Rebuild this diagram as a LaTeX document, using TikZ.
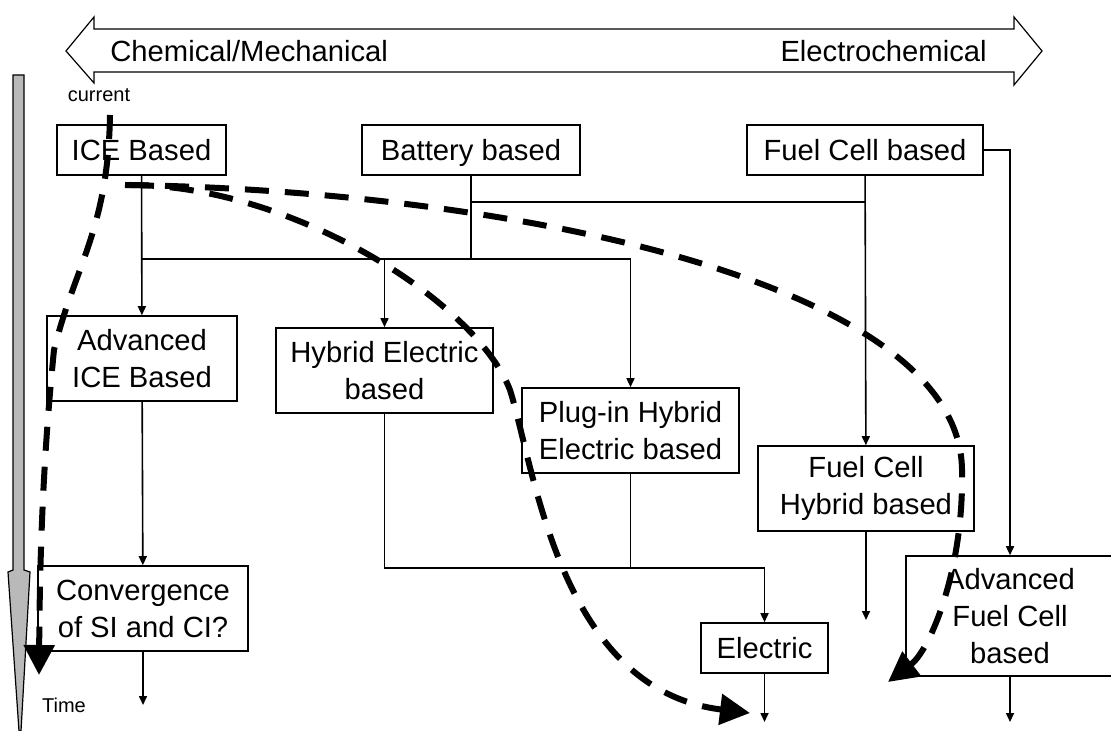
\documentclass[tikz,border=0pt]{standalone}
\usepackage{fontspec}
\setmainfont{Liberation Sans}
\usetikzlibrary{arrows.meta}

\begin{document}
\begin{tikzpicture}[x=0.5pt,y=-0.5pt,
  font=\fontsize{14.6}{18.5}\selectfont,
  box/.style={draw,line width=0.8pt,inner sep=0pt,align=center},
  oneline/.style={box,text height=10.5pt,text depth=0pt,minimum height=25pt},
  tag/.style={inner sep=0pt,font=\fontsize{10}{12}\selectfont},
  link/.style={line width=0.8pt},
  feed/.style={link,-{Triangle[length=4.5pt,width=4pt]}},
  trend/.style={line width=3pt,dash pattern=on 12pt off 8pt,-{Triangle[length=15pt,width=15pt]}}]
\useasboundingbox (0,0) rectangle (1111,731);

\draw[line width=0.6pt] (66,51) -- (94,17) -- (94,29) -- (1014,29) -- (1014,17) -- (1042,51)
  -- (1014,85) -- (1014,72) -- (94,72) -- (94,83) -- cycle;
\node[inner sep=0pt,anchor=west] (chem) at (110,51) {Chemical/Mechanical};
\node[inner sep=0pt,anchor=east] (echem) at (987,51) {Electrochemical};

\draw[line width=0.6pt,fill=gray!55] (13,75) -- (24,75) -- (24,570) -- (30,572) -- (21,731)
  -- (19,731) -- (8,572) -- (13,570) -- cycle;
\node[tag] (now) at (99,95) {current};
\node[tag] (time) at (64,705) {Time};

\node[oneline,minimum width=84.5pt] (ice) at (141.5,150) {ICE Based};
\node[oneline,minimum width=109pt] (battery) at (471,150) {Battery based};
\node[oneline,minimum width=118pt] (fuelcell) at (865,150) {Fuel Cell based};
\node[box,minimum width=95pt,minimum height=42.5pt] (advice) at (142,358.5) {Advanced\\ICE Based};
\node[box,minimum width=108.5pt,minimum height=42.5pt] (hybrid) at (384.5,370.5) {Hybrid Electric\\based};
\node[box,minimum width=108.5pt,minimum height=42.5pt] (plugin) at (630.5,430.5) {Plug-in Hybrid\\Electric based};
\node[box,minimum width=108pt,minimum height=42.5pt] (fchybrid) at (866,488.5) {Fuel Cell\\Hybrid based};
\node[box,minimum width=105pt,minimum height=42.5pt] (converge) at (143,608.5) {Convergence\\of SI and CI?};
\node[oneline,minimum width=63.5pt] (electric) at (764.5,648) {Electric};
\node[box,minimum width=104pt,minimum height=60pt] (advfc) at (1010,616) {Advanced\\Fuel Cell\\based};

\coordinate (split) at (471,259);
\coordinate (tee) at (471,202);
\coordinate (merge) at (764.5,568);
\coordinate (sink1) at (143,705);
\coordinate (sink2) at (764.5,722);
\coordinate (sink3) at (866,620);
\coordinate (sink4) at (1010,722);

\draw[feed] (ice) -- (advice);
\draw[feed] (advice) -- (converge);
\draw[feed] (converge) -- (sink1);
\draw[link] (battery) -- (split);
\draw[link] (tee) -- (fuelcell.south |- tee);
\draw[link] (ice.south |- split) -- (plugin.north |- split);
\draw[feed] (hybrid.north |- split) -- (hybrid);
\draw[feed] (plugin.north |- split) -- (plugin);
\draw[feed] (fuelcell) -- (fchybrid);
\draw[feed] (fchybrid) -- (sink3);
\draw[feed] (fuelcell.east) -| (advfc.north);
\draw[feed] (advfc) -- (sink4);
\draw[link] (hybrid.south) |- (merge);
\draw[link] (plugin.south) -- (plugin.south |- merge);
\draw[feed] (merge) -- (electric);
\draw[feed] (electric) -- (sink2);

\draw[trend] (110,115) .. controls (108,230) and (75,265) .. (54,350)
  .. controls (46,430) and (40,520) .. (39,675);
\draw[trend] (125,185) .. controls (500,190) and (960,280) .. (962,470)
  .. controls (964,570) and (930,650) .. (888,682);
\draw[trend] (130,185) .. controls (290,185) and (475,300) .. (510,390)
  .. controls (535,470) and (560,690) .. (750,713);
\end{tikzpicture}
\end{document}
